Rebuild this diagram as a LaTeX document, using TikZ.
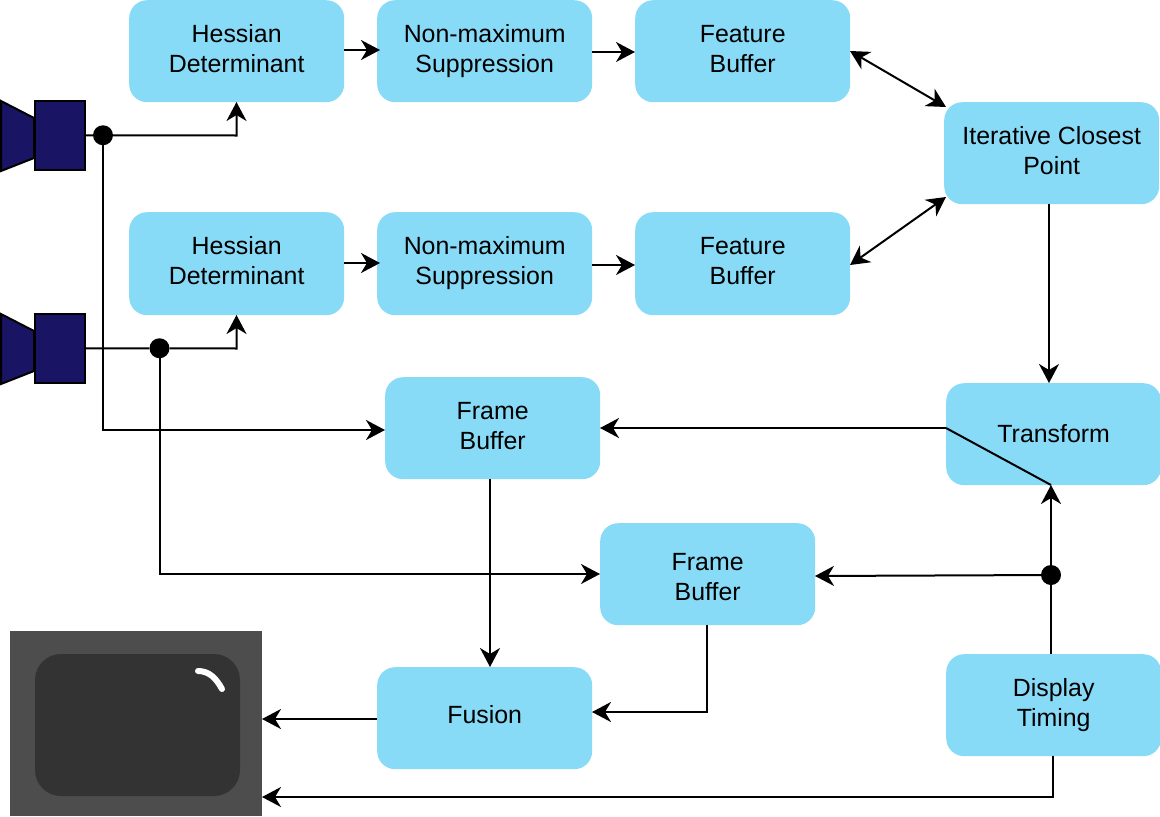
\documentclass[tikz,border=0pt]{standalone}
\usepackage{fontspec}
\setmainfont{Liberation Sans}
\usetikzlibrary{arrows.meta,calc}
\definecolor{boxblue}{HTML}{88DBF7}
\definecolor{camblue}{HTML}{1A1464}
\definecolor{monout}{HTML}{4D4D4D}
\definecolor{monin}{HTML}{333333}
\tikzset{
  blockbox/.style={fill=boxblue,rounded corners=18pt,minimum width=215pt,inner sep=0pt,
    align=center,anchor=north west,font=\fontsize{24.9}{30}\selectfont},
  conn/.style={line width=2pt,draw=black},
  arr/.style={conn,-{Stealth[length=19pt,width=20pt,inset=6pt]}},
  darr/.style={conn,{Stealth[length=19pt,width=20pt,inset=6pt]}-{Stealth[length=19pt,width=20pt,inset=6pt]}},
  junction/.style={circle,fill=black,minimum size=20pt,inner sep=0pt},
  cambody/.style={fill=camblue,draw=black,line width=2pt},
}
\begin{document}
\begin{tikzpicture}[x=1pt,y=-1pt]
\useasboundingbox (0,0) rectangle (1160,817);
% blocks
\node[blockbox,minimum height=102pt] (h1) at (129,0) {\strut Hessian\\\strut Determinant};
\node[blockbox,minimum height=102pt] (n1) at (377,0) {\strut Non-maximum\\\strut Suppression};
\node[blockbox,minimum height=102pt] (f1) at (635,0) {\strut Feature\\\strut Buffer};
\node[blockbox,minimum height=102pt] (icp) at (944,102) {\strut Iterative Closest\\\strut Point};
\node[blockbox,minimum height=103pt] (h2) at (129,212) {\strut Hessian\\\strut Determinant};
\node[blockbox,minimum height=103pt] (n2) at (377,212) {\strut Non-maximum\\\strut Suppression};
\node[blockbox,minimum height=103pt] (f2) at (635,212) {\strut Feature\\\strut Buffer};
\node[blockbox,minimum height=102pt] (tr) at (946,383) {\rule{0pt}{25pt}Transform\rule[-9pt]{0pt}{9pt}};
\node[blockbox,minimum height=102pt] (fb1) at (385,377) {\strut Frame\\\strut Buffer};
\node[blockbox,minimum height=102pt] (fb2) at (600,523) {\rule{0pt}{31pt}Frame\\\strut Buffer};
\node[blockbox,minimum height=102pt] (fus) at (377,667) {\rule[-11pt]{0pt}{32pt}Fusion};
\node[blockbox,minimum height=102pt] (dt) at (946,654) {\strut Display\\\strut Timing};
% monitor
\fill[monout] (10,631) rectangle (262,816);
\fill[monin,rounded corners=26pt] (35,654) rectangle (240,796);
\draw[white,line width=6pt,line cap=round] (198,671) .. controls (209,671) and (216,678) .. (222,689);
\coordinate (monA) at (262,719);
\coordinate (monB) at (262,797);
% cameras
\draw[cambody,line join=miter] (1,101) -- (34,118) -- (34,158) -- (1,171) -- cycle;
\node[cambody,outer sep=0pt,minimum width=50pt,minimum height=68.5pt,inner sep=0pt,anchor=north west] (cam1) at (34.5,101) {};
\draw[cambody,line join=miter] (1,314) -- (34,331) -- (34,371) -- (1,384) -- cycle;
\node[cambody,outer sep=0pt,minimum width=50pt,minimum height=68.5pt,inner sep=0pt,anchor=north west] (cam2) at (34.5,314) {};
% junctions
\node[junction] (j1) at (103,135.25) {};
\node[junction] (j2) at (159.5,348.25) {};
\node[junction] (j3) at (1051,575) {};
% ports
\coordinate (c1) at (236.5,135.5);
\coordinate (c2) at (236.5,348.5);
\coordinate (f1p) at (850,51);
\coordinate (icpa) at (946,107);
\coordinate (f2p) at (850,265);
\coordinate (icpb) at (946,197);
\coordinate (trw) at (946,428);
\coordinate (trs) at (1051,485);
% connectors
\draw[arr] (cam1.east) -- (j1) -- (c1) -- (236.5,102);
\draw[arr] (cam2.east) -- (j2) -- (c2) -- (236.5,315);
\draw[arr] (j1) |- (385,430);
\draw[arr] (j2) |- (600,574);
\draw[arr] (344,50) -- (380,50);
\draw[arr] (592,52) -- (635,52);
\draw[arr] (344,263) -- (380,263);
\draw[arr] (592,265) -- (635,265);
\draw[darr] (f1p) -- (icpa);
\draw[darr] (f2p) -- (icpb);
\draw[arr] (1049,204) -- (1049,383);
\draw[arr] (trw) -- (600,428);
\draw[conn] (trw) -- (trs);
\draw[arr] (j3) -- (trs);
\draw[arr] (j3) -- (815,576);
\draw[conn] (1051,654) -- (j3);
\draw[arr] (490,479) -- (490,667);
\draw[arr] (707,625) -- (707,712) -- (592,712);
\draw[arr] (377,719) -- (monA);
\draw[arr] (1053,756) -- (1053,797) -- (monB);
\end{tikzpicture}
\end{document}
